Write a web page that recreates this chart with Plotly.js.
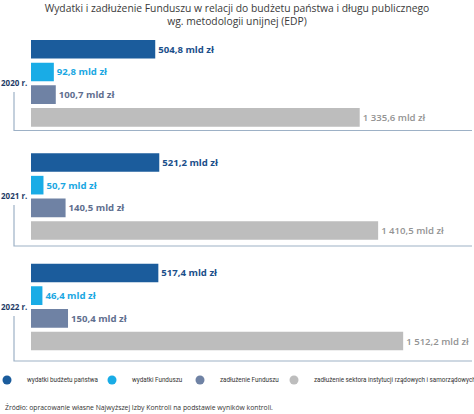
<!DOCTYPE html>
<html>
<head>
<meta charset="utf-8">
<script src="https://cdn.plot.ly/plotly-3.0.1.min.js"></script>
<style>html,body{margin:0;padding:0;background:#fff;}#chart{width:474px;height:414px;}</style>
</head>
<body>
<div id="chart"></div>
<script>
const years = ['2020 r.', '2021 r.', '2022 r.'];
const seriesNames = ['wydatki budżetu państwa', 'wydatki Funduszu', 'zadłużenie Funduszu', 'zadłużenie sektora instytucji rządowych i samorządowych'];
const budgetExpenses = [504.8, 521.2, 517.4];
const fundExpenses = [92.8, 50.7, 46.4];
const fundDebt = [100.7, 140.5, 150.4];
const sectorDebt = [1335.6, 1410.5, 1512.2];
const seriesValues = [budgetExpenses, fundExpenses, fundDebt, sectorDebt];

const barColors = ['#1b5c9c', '#19ace6', '#6f82a4', '#bdbdbd'];
const labelColors = ['#1b4f8a', '#1aa7e2', '#5f6f8f', '#939393'];
const labelWeights = [700, 700, 700, 600];

const H = 414, W = 474;
const py = p => 1 - p / H;
const px = p => p / W;

// pixel bands of each year group (top, bottom)
const bands = [[37.9, 128.7], [151.1, 241.9], [261.6, 352.4]];
const yearLabelY = [82.5, 195.5, 306.5];
const bracketY = [130.5, 246, 361];
const bracketTop = [92, 205, 316];
const legendX = [-13, 92, 180, 274];

const traces = [];
years.forEach((yr, i) => {
  const ya = i === 0 ? 'y' : 'y' + (i + 1);
  traces.push({
    type: 'bar', orientation: 'h',
    x: seriesValues.map(s => s[i]),
    y: seriesNames,
    xaxis: 'x', yaxis: ya,
    marker: {color: barColors, line: {width: 0}},
    texttemplate: '%{x:,.1f} mld zł',
    textposition: 'outside',
    cliponaxis: false,
    constraintext: 'none',
    textfont: {family: 'Open Sans, sans-serif', size: 9.6, color: labelColors, weight: labelWeights},
    showlegend: false,
    hoverinfo: 'x+y'
  });
});
seriesNames.forEach((n, k) => {
  traces.push({
    type: 'scatter', mode: 'markers', x: [null], y: [null],
    xaxis: 'x', yaxis: 'y',
    name: n,
    legend: k === 0 ? 'legend' : 'legend' + (k + 1),
    marker: {color: barColors[k], size: 9, symbol: 'circle'},
    showlegend: true
  });
});

const layout = {
  width: W, height: H,
  margin: {l: 0, r: 0, t: 0, b: 0, autoexpand: false},
  paper_bgcolor: '#fff', plot_bgcolor: '#fff',
  separators: ', ',
  bargap: 0.18,
  font: {family: 'Open Sans, sans-serif', color: '#333'},
  title: {
    text: 'Wydatki i zadłużenie Funduszu w relacji do budżetu państwa i długu publicznego<br>wg. metodologii unijnej (EDP)',
    font: {family: 'Open Sans, sans-serif', size: 10.3, color: '#3a3a3a'},
    x: 0.5, xanchor: 'center', xref: 'paper',
    y: 1 - 12 / H, yanchor: 'top', yref: 'container'
  },
  xaxis: {domain: [px(31), 1], range: [0, 1800], visible: false, fixedrange: true},
  showlegend: true,
  shapes: [],
  annotations: []
};

seriesNames.forEach((n, k) => {
  const key = k === 0 ? 'legend' : 'legend' + (k + 1);
  layout[key] = {
    orientation: 'h', xref: 'paper', yref: 'paper',
    x: px(legendX[k]), xanchor: 'left', y: py(380), yanchor: 'middle',
    font: {family: 'Roboto, sans-serif', size: 6.3, color: '#333'},
    itemwidth: 30, bgcolor: 'rgba(0,0,0,0)', borderwidth: 0
  };
});

years.forEach((yr, i) => {
  const key = i === 0 ? 'yaxis' : 'yaxis' + (i + 1);
  layout[key] = {
    domain: [py(bands[i][1]), py(bands[i][0])],
    anchor: 'x', type: 'category',
    categoryorder: 'array', categoryarray: seriesNames,
    autorange: 'reversed', visible: false, fixedrange: true
  };
  layout.annotations.push({
    text: '<b>' + yr + '</b>', xref: 'paper', x: px(28.5), xanchor: 'right',
    yref: 'paper', y: py(yearLabelY[i]), yanchor: 'middle',
    showarrow: false, font: {family: 'Open Sans, sans-serif', size: 8, color: '#1d3a66'}
  });
  layout.shapes.push({
    type: 'path', xref: 'paper', yref: 'paper',
    path: 'M ' + px(14) + ' ' + py(bracketTop[i]) + ' L ' + px(14) + ' ' + py(bracketY[i]) + ' L ' + px(472) + ' ' + py(bracketY[i]),
    line: {color: '#9db1c6', width: 1.2}
  });
});

layout.annotations.push({
  text: 'Źródło: opracowanie własne Najwyższej Izby Kontroli na podstawie wyników kontroli.',
  xref: 'paper', yref: 'paper', x: px(3), xanchor: 'left', y: py(407), yanchor: 'middle',
  showarrow: false, font: {family: 'Open Sans, sans-serif', size: 6.8, color: '#333'}
});

Plotly.newPlot('chart', traces, layout, {displayModeBar: false, staticPlot: true});
</script>
</body>
</html>
